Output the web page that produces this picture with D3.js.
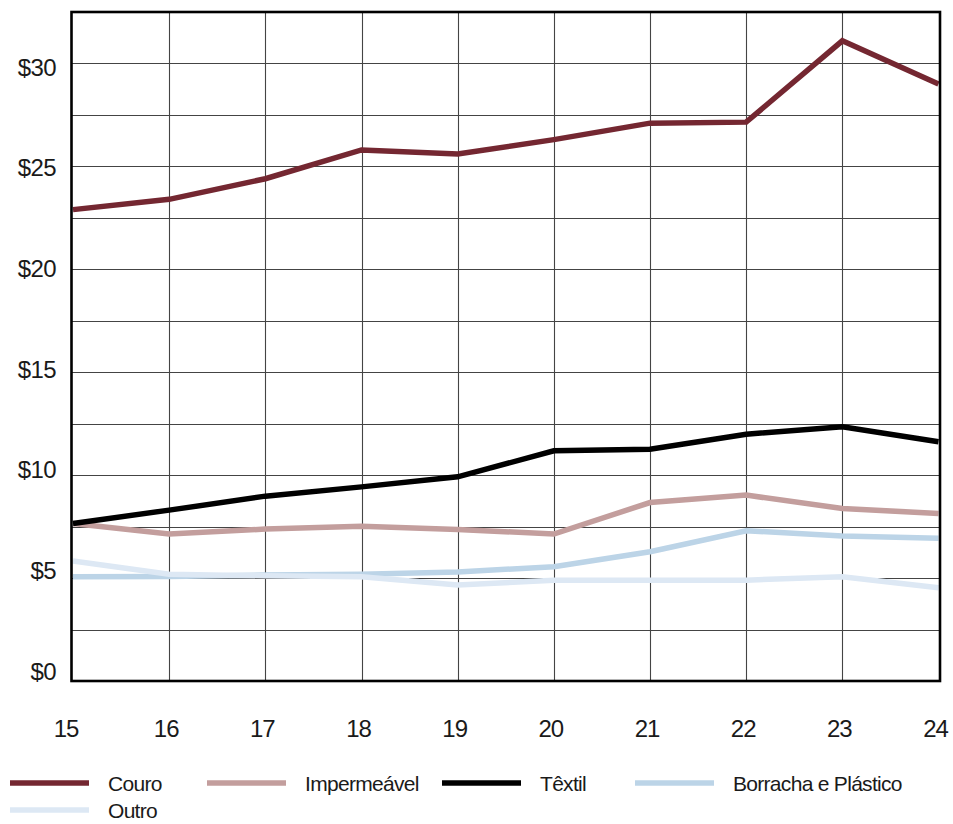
<!DOCTYPE html>
<html>
<head>
<meta charset="utf-8">
<script src="https://cdn.jsdelivr.net/npm/d3@7"></script>
<style>
  html, body { margin: 0; padding: 0; background: #fff; }
  svg { display: block; }
  text { font-family: "Liberation Sans", Arial, Helvetica, sans-serif; fill: #1a1a1a; }
</style>
</head>
<body>
<svg id="chart" width="953" height="824"></svg>
<script>
// ---- data ----
const years = [15, 16, 17, 18, 19, 20, 21, 22, 23, 24];
const seriesNames = ["Couro", "Impermeável", "Têxtil", "Borracha e Plástico", "Outro"];
const couro        = [22.9, 23.4, 24.4, 25.8, 25.6, 26.3, 27.1, 27.15, 31.1, 29.0];
const impermeavel  = [7.65, 7.14, 7.38, 7.52, 7.36, 7.14, 8.67, 9.03, 8.38, 8.14];
const textil       = [7.65, 8.3, 8.98, 9.43, 9.92, 11.18, 11.26, 11.99, 12.35, 11.62];
const borracha     = [5.06, 5.08, 5.15, 5.18, 5.3, 5.55, 6.28, 7.3, 7.04, 6.93];
const outro        = [5.83, 5.19, 5.11, 5.06, 4.66, 4.9, 4.9, 4.9, 5.06, 4.53];
const seriesColors = ["#742731", "#c39e9d", "#000000", "#bcd4e7", "#dde8f4"];
const yTickValues  = [0, 5, 10, 15, 20, 25, 30];
const yGridValues  = [2.5, 5, 7.5, 10, 12.5, 15, 17.5, 20, 22.5, 25, 27.5, 30];
const yMax = 32.5;

const allSeries = [couro, impermeavel, textil, borracha, outro];

// ---- layout ----
const svg = d3.select("#chart");
const L = 71.5, R = 940, T = 12, B = 681;

const x = d3.scaleLinear().domain([15, 24]).range([L + 1.5, R - 1.5]);
const y = d3.scaleLinear().domain([0, yMax]).range([B, T]);
// tick label placement used in the reference (slightly compressed relative to grid)
const yLabel = d3.scaleLinear().domain([0, 30]).range([671, 67]);

// grid
const g = svg.append("g");
g.selectAll("line.h").data(yGridValues).join("line")
  .attr("x1", L).attr("x2", R)
  .attr("y1", d => Math.round(y(d)) + 0.5).attr("y2", d => Math.round(y(d)) + 0.5)
  .attr("stroke", "#444").attr("stroke-width", 1.1);
g.selectAll("line.v").data(years.slice(1, -1)).join("line")
  .attr("y1", T).attr("y2", B)
  .attr("x1", d => Math.round(x(d)) + 0.5).attr("x2", d => Math.round(x(d)) + 0.5)
  .attr("stroke", "#444").attr("stroke-width", 1.1);

// series lines
const line = d3.line().x((d, i) => x(years[i])).y(d => y(d));
svg.append("g").selectAll("path").data(allSeries).join("path")
  .attr("d", d => line(d))
  .attr("fill", "none")
  .attr("stroke", (d, i) => seriesColors[i])
  .attr("stroke-width", 5.5)
  .attr("stroke-linejoin", "miter")
  .attr("stroke-linecap", "butt");

// frame
svg.append("rect")
  .attr("x", L).attr("y", T).attr("width", R - L).attr("height", B - T)
  .attr("fill", "none").attr("stroke", "#000").attr("stroke-width", 2.6);

// y labels
svg.append("g").selectAll("text").data(yTickValues).join("text")
  .attr("x", 56).attr("y", d => yLabel(d))
  .attr("dy", "0.36em")
  .attr("text-anchor", "end")
  .style("font-size", "24px")
  .style("letter-spacing", "-0.6px")
  .text(d => "$" + d);

// x labels
svg.append("g").selectAll("text").data(years).join("text")
  .attr("x", (d, i) => x(d) - (i === 0 ? 7 : 3)).attr("y", 737)
  .attr("text-anchor", "middle")
  .style("font-size", "24px")
  .style("letter-spacing", "-1px")
  .text(d => d);

// legend
const legendPos = [[10, 783], [207, 783], [442, 783], [635, 783], [10, 810]];
const lg = svg.append("g").selectAll("g").data(seriesNames).join("g")
  .attr("transform", (d, i) => `translate(${legendPos[i][0]},${legendPos[i][1]})`);
lg.append("line")
  .attr("x1", 0).attr("x2", 79).attr("y1", 0).attr("y2", 0)
  .attr("stroke", (d, i) => seriesColors[i]).attr("stroke-width", 5.5);
lg.append("text")
  .attr("x", 98).attr("y", 0).attr("dy", "0.36em")
  .style("font-size", "21px")
  .style("letter-spacing", "-0.7px")
  .text(d => d);
</script>
</body>
</html>
